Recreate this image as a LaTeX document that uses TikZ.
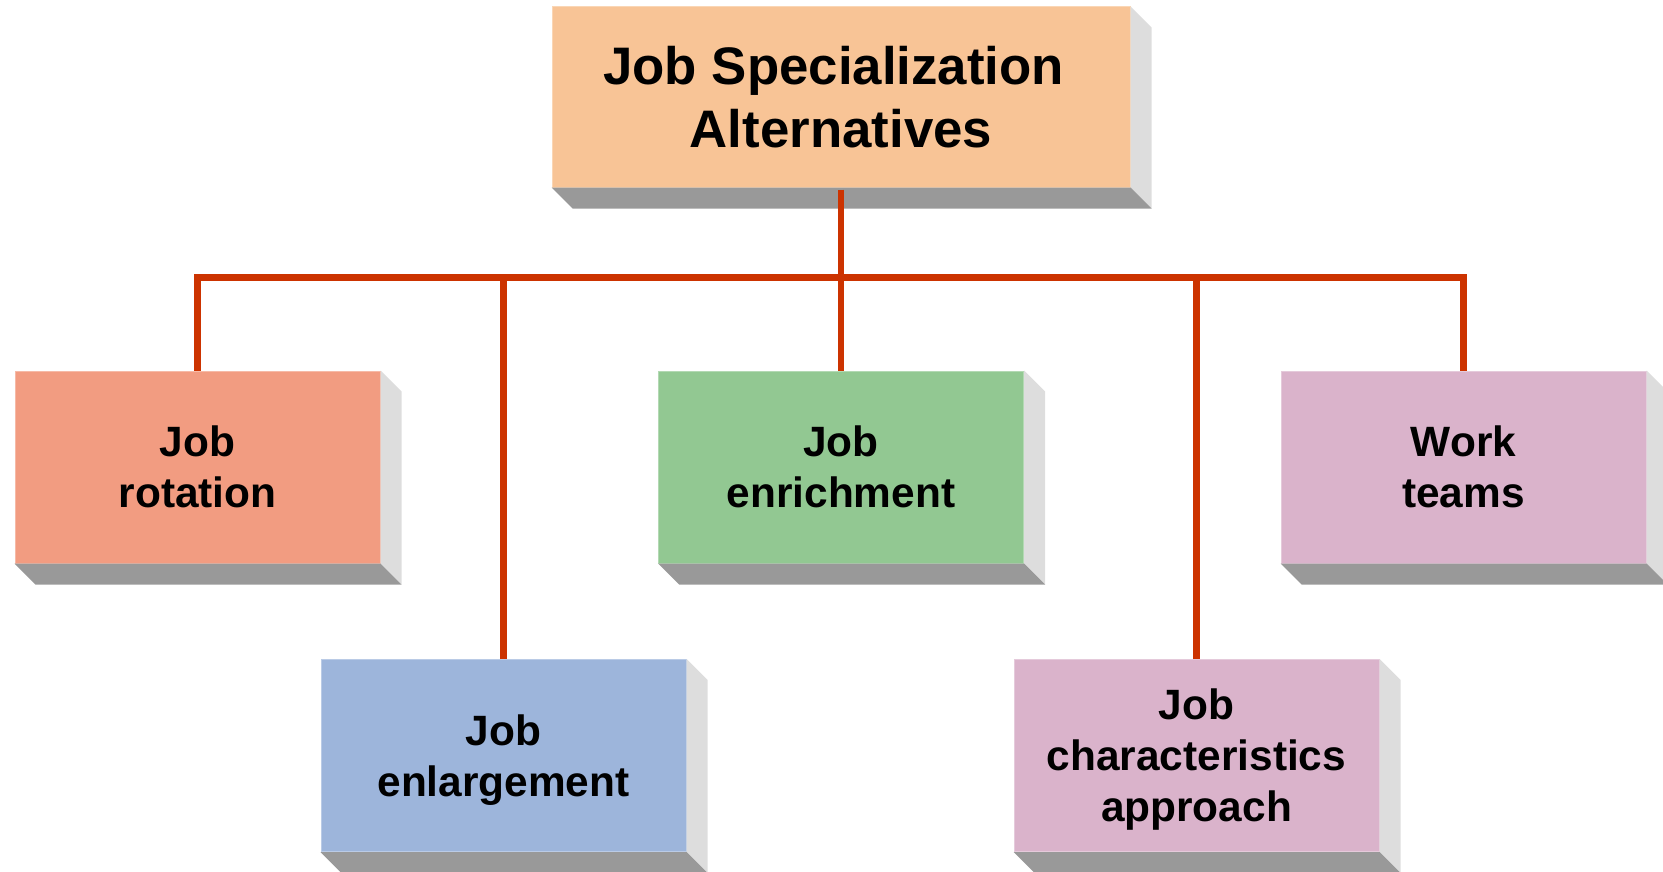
\documentclass[tikz,border=0pt]{standalone}
\usepackage{fontspec}
\setmainfont{Liberation Sans}
\definecolor{ctop}{HTML}{F8C496}
\definecolor{crot}{HTML}{F29C81}
\definecolor{cenl}{HTML}{9DB5DB}
\definecolor{cenr}{HTML}{92C892}
\definecolor{cpink}{HTML}{DAB3CB}
\definecolor{sidegray}{HTML}{DDDDDD}
\definecolor{bottomgray}{HTML}{999999}
\definecolor{linkred}{HTML}{CC3300}
\newcommand\nodepth[1]{\raisebox{0pt}[\height][0pt]{#1}}
\begin{document}
\begin{tikzpicture}[x=1pt,y=-1pt,
  box/.style={draw=#1!70!white, line width=1pt, fill=#1, minimum width=365pt,
    minimum height=192pt, inner sep=0pt, align=center,
    font=\fontsize{42.4}{51}\selectfont\bfseries},
  link/.style={draw=linkred, line width=6.5pt}]
\useasboundingbox (0,0) rectangle (1663,872);

\node[box=ctop, minimum width=578pt, minimum height=180pt,
  font=\fontsize{52.8}{62.5}\selectfont\bfseries] (top) at (841,97)
  {Job Specialization\hspace*{0.278em}\\Alternatives};

\node[box=crot]  (rot) at (197.5,467)  {Job\\rotation};
\node[box=cenl]  (enl) at (503.5,755.5) {Job\\\nodepth{enlargement}};
\node[box=cenr]  (enr) at (841,467)    {Job\\enrichment};
\node[box=cpink] (chr) at (1196.5,755.5) {Job\\characteristics\\\nodepth{approach}};
\node[box=cpink] (wt)  at (1463.5,467) {Work\\teams};

\foreach \n in {top,rot,enl,enr,chr,wt}{
  \fill[sidegray] (\n.north east) -- ++(21,21) -- ([shift={(21,21)}]\n.south east) -- (\n.south east) -- cycle;
  \fill[bottomgray] (\n.south west) -- (\n.south east) -- ++(21,21) -- ([shift={(21,21)}]\n.south west) -- cycle;
}

\coordinate (bus) at (841,277.5);
\draw[link] ([yshift=-2]top.south) -- (bus);
\draw[link] (rot.north) |- (bus) -| (wt.north);
\draw[link] (enl.north) -- (enl.north |- bus);
\draw[link] (enr.north) -- (enr.north |- bus);
\draw[link] (chr.north) -- (chr.north |- bus);
\end{tikzpicture}
\end{document}
